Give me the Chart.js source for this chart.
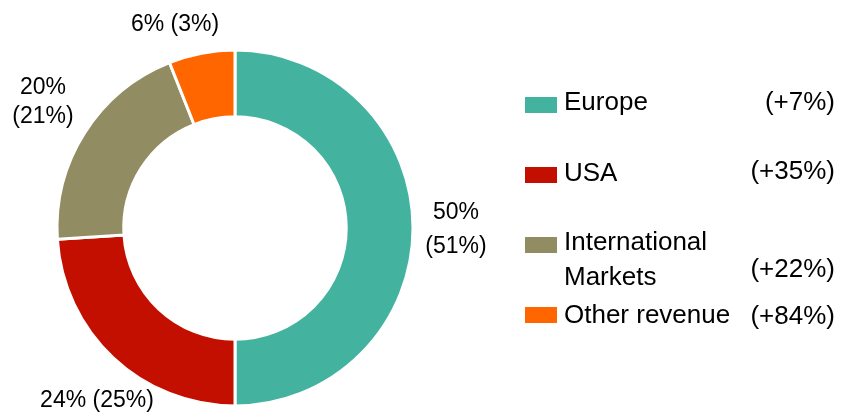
<!DOCTYPE html>
<html lang="en">
  <head>
    <meta charset="UTF-8" />
    <title>Revenue split</title>
    <script src="https://cdn.jsdelivr.net/npm/chart.js"></script>
    <style>
      body {
        margin: 0;
        background: #fff;
        font-family: "Liberation Sans", Arial, sans-serif;
      }
      .chart-container {
        width: 842px;
        height: 413px;
      }
    </style>
  </head>
  <body>
    <div class="chart-container">
      <canvas id="donut"></canvas>
    </div>

    <script>
      const categories = ["Europe", "USA", "International Markets", "Other revenue"];
      const shares = [50, 24, 20, 6];
      const prevShares = [51, 25, 21, 3];
      const growth = ["+7%", "+35%", "+22%", "+84%"];
      const colors = ["#43B39F", "#C30F00", "#918C61", "#FF6600"];

      // where the share labels sit around the ring
      const sliceLabels = [
        { x: 456, lines: [213, 247] },
        { x: 97, lines: [401] },
        { x: 43, lines: [88, 117] },
        { x: 175, lines: [25] },
      ];

      // legend rows: label lines, box top, growth y
      const legendRows = [
        { lines: ["Europe"], y: [103], box: 97, g: 103 },
        { lines: ["USA"], y: [174], box: 167, g: 172 },
        { lines: ["International", "Markets"], y: [243, 278], box: 237, g: 270 },
        { lines: ["Other revenue"], y: [316], box: 307, g: 317 },
      ];

      const labelsPlugin = {
        id: "labels",
        afterDraw(chart) {
          const c = chart.ctx;
          c.save();
          c.fillStyle = "#000";
          c.textBaseline = "middle";
          c.font = '23px "Liberation Sans", Arial, sans-serif';
          c.textAlign = "center";
          sliceLabels.forEach((s, i) => {
            const a = shares[i] + "%";
            const b = "(" + prevShares[i] + "%)";
            if (s.lines.length === 2) {
              c.fillText(a, s.x, s.lines[0]);
              c.fillText(b, s.x, s.lines[1]);
            } else {
              c.fillText(a + " " + b, s.x, s.lines[0]);
            }
          });

          c.font = '26px "Liberation Sans", Arial, sans-serif';
          legendRows.forEach((r, i) => {
            c.fillStyle = colors[i];
            c.fillRect(525, r.box, 32, 16);
            c.fillStyle = "#000";
            c.textAlign = "left";
            r.lines.forEach((t, j) => c.fillText(t, 564, r.y[j]));
            c.textAlign = "right";
            c.fillText("(" + growth[i] + ")", 835, r.g);
          });
          c.restore();
        },
      };

      new Chart(document.getElementById("donut"), {
        type: "doughnut",
        data: {
          labels: categories,
          datasets: [
            {
              data: shares,
              backgroundColor: colors,
              borderColor: "#fff",
              borderWidth: 3,
              hoverOffset: 0,
            },
          ],
        },
        options: {
          responsive: true,
          maintainAspectRatio: false,
          animation: false,
          radius: 178,
          cutout: "62.5%",
          layout: {
            padding: { left: 55, right: 427, top: 48, bottom: 5 },
          },
          plugins: {
            legend: { display: false },
            tooltip: { enabled: false },
          },
        },
        plugins: [labelsPlugin],
      });
    </script>
  </body>
</html>
